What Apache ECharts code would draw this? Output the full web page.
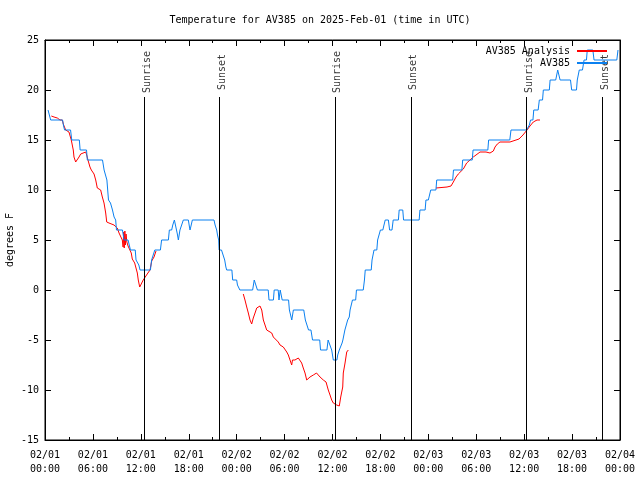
<!DOCTYPE html>
<html>
<head>
<meta charset="utf-8">
<script src="https://cdn.jsdelivr.net/npm/echarts@6/dist/echarts.min.js"></script>
<style>html,body{margin:0;padding:0;background:#fff}#c{width:640px;height:480px}</style>
</head>
<body>
<div id="c"></div>
<script>
// Hours since 2025-02-01 00:00 UTC
const xTickLabels = ['02/01\n00:00','02/01\n06:00','02/01\n12:00','02/01\n18:00','02/02\n00:00','02/02\n06:00','02/02\n12:00','02/02\n18:00','02/03\n00:00','02/03\n06:00','02/03\n12:00','02/03\n18:00','02/04\n00:00'];
const yTicks = [-15,-10,-5,0,5,10,15,20,25];

const sunNames = ['Sunrise','Sunset','Sunrise','Sunset','Sunrise','Sunset'];
const sunHours = [12.4, 21.8, 36.3, 45.8, 60.3, 69.8];

// AV385 observations
const obsHours = [0.38,0.55,0.71,2.2,2.3,2.45,3.2,3.35,4.3,4.4,5.2,5.3,7.2,7.4,7.65,7.75,7.95,8.2,8.45,8.65,8.85,8.95,9.7,9.8,9.9,10.4,10.55,10.7,11.3,11.4,11.65,11.75,11.9,13.2,13.35,13.5,13.75,14.45,14.6,15.45,15.57,15.86,16.0,16.2,16.36,16.57,16.7,16.82,16.9,17.1,17.32,17.95,18.07,18.16,18.28,18.45,21.16,21.3,21.5,21.6,21.75,21.8,22.1,22.3,22.5,22.65,22.75,23.4,23.5,24.0,24.1,24.4,26.0,26.2,26.4,26.6,27.95,28.05,28.6,28.7,29.2,29.3,29.45,29.6,29.7,30.5,30.6,30.85,30.9,31.0,31.1,32.4,32.6,32.8,33.0,33.3,33.5,34.4,34.5,35.3,35.45,35.7,35.9,36.1,36.55,36.65,36.85,36.95,37.2,37.3,37.45,37.55,37.8,37.9,38.1,38.2,38.4,38.5,38.9,39.0,39.85,40.0,40.1,40.85,40.95,41.1,41.2,41.55,41.65,41.9,42.0,42.3,42.45,42.6,43.0,43.15,43.45,43.6,44.25,44.35,44.8,44.9,46.85,46.95,47.6,47.7,48.0,48.3,48.95,49.05,51.05,51.15,52.2,52.3,53.5,53.6,55.45,55.55,58.2,58.35,60.3,60.65,60.8,61.1,61.2,61.75,61.9,62.3,62.4,63.15,63.25,63.95,64.2,64.35,64.5,65.8,65.95,66.55,66.65,66.9,67.3,67.5,67.8,67.9,68.6,68.75,71.6,71.75];
const obsTemps = [18,18,17,17,16.5,16,16,15,15,14,14,13,13,12,12,11,9,8.7,8,7.3,7,6,6,5.5,5,5,4.5,4,4,3,3,2.5,2,2,3,3.2,4,4,5,5,6,6,6.5,7,6.4,5.6,5,5.6,6,6,7,7,6.4,6,6.4,7,7,6.5,6,5.5,5,4,4,3.5,3,2.3,2,2,1,1,0.5,0,0,1,1,0,0,-1,-1,0,0,-1,0,0,-1,-1,-2,-2,-3,-3,-2,-2,-3,-3,-4,-4,-5,-5,-6,-6,-5,-5,-6,-7,-7,-6.5,-6,-6,-5.3,-5,-5,-4,-4,-3,-2.7,-2,-2,-1,-1,0,0,1,2,2,3,3,4,4,5,5,6,6,6.5,7,7,6,6,7,7,8,8,7,7,8,8,9,9,10,10,11,11,12,12,13,13,14,14,15,15,16,16,16.5,17,17,18,18,19,19,20,20,21,21,22,22,21,21,20,20,21,22,22,23,23,24,24,23,23,24];

// AV385 Analysis (null = gap)
const anaHours = [0.79,1.13,1.54,1.88,2.17,2.29,2.59,3.0,3.13,3.29,3.54,3.63,3.84,4.04,4.26,4.47,4.67,5.10,5.22,5.38,5.63,5.80,6.05,6.14,6.35,6.55,6.76,6.97,7.18,7.39,7.60,7.73,7.80,8.01,8.64,8.85,9.05,9.27,9.68,9.78,9.85,9.92,10.0,10.07,10.15,10.25,10.4,10.55,10.8,10.93,11.23,11.36,11.56,11.68,11.86,12.0,12.3,12.8,13.15,13.36,13.65,13.9,
  null,
  24.83,25.04,25.26,25.46,25.67,25.88,26.08,26.30,26.51,26.71,26.92,27.14,27.34,27.55,27.76,27.96,28.39,28.59,29.21,29.43,29.84,30.05,30.27,30.47,30.68,30.89,30.99,31.30,31.72,31.93,32.14,32.34,32.56,32.77,33.18,33.60,34.0,34.22,34.44,34.85,35.19,35.47,35.69,35.90,36.10,36.53,36.85,37.03,37.28,37.35,37.57,37.78,37.98,
  null,
  48.96,50.34,50.84,51.13,51.47,51.75,51.97,52.38,52.80,53.22,53.63,53.97,54.47,55.22,55.72,56.14,56.35,56.64,56.97,58.22,58.98,59.35,59.85,60.36,60.73,61.14,61.61,61.98];
const anaTemps = [17.4,17.3,17.2,17.0,17.0,16.6,16.0,15.8,15.7,15.0,14.0,13.3,12.8,12.8,13.3,13.6,13.7,13.8,13.5,13.0,12.3,12.0,11.8,11.6,11.0,10.2,10.0,10.0,9.3,8.7,7.7,6.8,6.7,6.7,6.5,6.4,6.2,5.7,5.0,4.3,5.8,4.2,5.9,4.5,5.6,4.8,4.4,4.2,3.7,3.1,2.7,2.3,1.7,1.0,0.3,0.27,1.0,1.6,2.0,2.9,3.3,3.9,
  null,
  -0.4,-1.0,-1.7,-2.3,-3.0,-3.4,-2.8,-2.3,-1.8,-1.6,-1.6,-2.0,-3.0,-3.5,-4.0,-4.1,-4.3,-4.7,-5.2,-5.5,-5.7,-5.8,-6.2,-6.5,-7.0,-7.5,-7.0,-7.0,-6.8,-6.6,-7.3,-7.8,-8.3,-9.0,-8.7,-8.5,-8.3,-8.4,-8.7,-9.0,-9.2,-10.0,-10.5,-11.0,-11.3,-11.5,-11.6,-10.7,-9.7,-8.3,-7.3,-6.2,-6.0,
  null,
  10.2,10.3,10.4,10.8,11.3,11.6,11.8,12.1,12.7,13.0,13.3,13.5,13.8,13.8,13.7,13.9,14.3,14.6,14.8,14.8,15.0,15.1,15.5,16.0,16.4,16.8,17.0,17.0];

const FONT = 'DejaVu Sans Mono';
const yMin = yTicks[0], yMax = yTicks[yTicks.length-1];
const sunLineTop = 19.3;   // top of sunrise/sunset markers (degrees)
const sunLabelAt = 22;     // label centre (degrees)

const chart = echarts.init(document.getElementById('c'), null, {renderer:'canvas'});
const tickStyle = {color:'#000', width:1};
const option = {
  animation: false,
  backgroundColor: '#fff',
  title: {
    text: 'Temperature for AV385 on 2025-Feb-01 (time in UTC)',
    left: 'center', top: 10,
    textStyle: {fontFamily: FONT, fontSize: 10, fontWeight: 'normal', color: '#000'}
  },
  legend: [
    {data: ['AV385 Analysis'], right: 28, top: 41, align: 'right', orient: 'vertical',
     itemWidth: 30, itemHeight: 2, icon: 'rect',
     textStyle: {fontFamily: FONT, fontSize: 10, color: '#000', padding: [0, 2, 0, 0]}},
    {data: ['AV385'], right: 28, top: 53, align: 'right', orient: 'vertical',
     itemWidth: 30, itemHeight: 2, icon: 'rect',
     textStyle: {fontFamily: FONT, fontSize: 10, color: '#000', padding: [0, 2, 0, 0]}}
  ],
  grid: {left: 45, right: 20, top: 40, bottom: 40, show: true, borderColor: '#000', borderWidth: 1,
         containLabel: false, outerBoundsMode: 'none'},
  xAxis: [
    {type: 'value', min: 0, max: 72, interval: 6, position: 'bottom',
     axisLine: {show: true, onZero: false, lineStyle: tickStyle},
     axisTick: {show: true, inside: true, length: 6, lineStyle: tickStyle},
     minorTick: {show: true, splitNumber: 2, length: 3, lineStyle: tickStyle},
     splitLine: {show: false},
     axisLabel: {fontFamily: FONT, fontSize: 10, color: '#000', lineHeight: 14, margin: 8,
       formatter: (v) => xTickLabels[Math.round(v / 6)] || ''}},
    {type: 'value', min: 0, max: 72, interval: 6, position: 'top',
     axisLine: {show: true, onZero: false, lineStyle: tickStyle},
     axisTick: {show: true, inside: true, length: 6, lineStyle: tickStyle},
     minorTick: {show: true, splitNumber: 2, length: 3, lineStyle: tickStyle},
     splitLine: {show: false}, axisLabel: {show: false}}
  ],
  yAxis: [
    {type: 'value', min: yMin, max: yMax, interval: 5, position: 'left',
     name: 'degrees F', nameLocation: 'middle', nameRotate: 90, nameGap: 30, nameMoveOverlap: false,
     nameTextStyle: {fontFamily: FONT, fontSize: 10, color: '#000'},
     axisLine: {show: true, onZero: false, lineStyle: tickStyle},
     axisTick: {show: true, inside: true, length: 6, lineStyle: tickStyle},
     splitLine: {show: false},
     axisLabel: {fontFamily: FONT, fontSize: 10, color: '#000', margin: 6}},
    {type: 'value', min: yMin, max: yMax, interval: 5, position: 'right',
     axisLine: {show: true, onZero: false, lineStyle: tickStyle},
     axisTick: {show: true, inside: true, length: 6, lineStyle: tickStyle},
     splitLine: {show: false}, axisLabel: {show: false}}
  ],
  series: [
    {
      name: 'sun', type: 'scatter', symbolSize: 0, silent: true, z: 1,
      data: sunHours.map((h, i) => ({name: sunNames[i], value: [h, sunLabelAt]})),
      label: {show: true, position: 'inside', rotate: 90, offset: [-2, 3],
        formatter: (p) => p.name, fontFamily: FONT, fontSize: 10, color: '#000'},
      markLine: {
        silent: true, symbol: ['none', 'none'], label: {show: false},
        lineStyle: {color: '#000', width: 1, type: 'solid'},
        data: sunHours.map(h => [{coord: [h, yMin]}, {coord: [h, sunLineTop]}])
      }
    },
    {
      name: 'AV385 Analysis', type: 'line', showSymbol: false, symbol: 'none', z: 2,
      color: '#ff0000', lineStyle: {color: '#ff0000', width: 1},
      connectNulls: false,
      data: anaHours.map((h, i) => anaTemps[i] == null ? ['-', '-'] : [h, anaTemps[i]])
    },
    {
      name: 'AV385', type: 'line', showSymbol: false, symbol: 'none', z: 3,
      color: '#0a80f0', lineStyle: {color: '#0a80f0', width: 1},
      data: obsHours.map((h, i) => [h, obsTemps[i]])
    }
  ]
};
chart.setOption(option);
</script>
</body>
</html>
